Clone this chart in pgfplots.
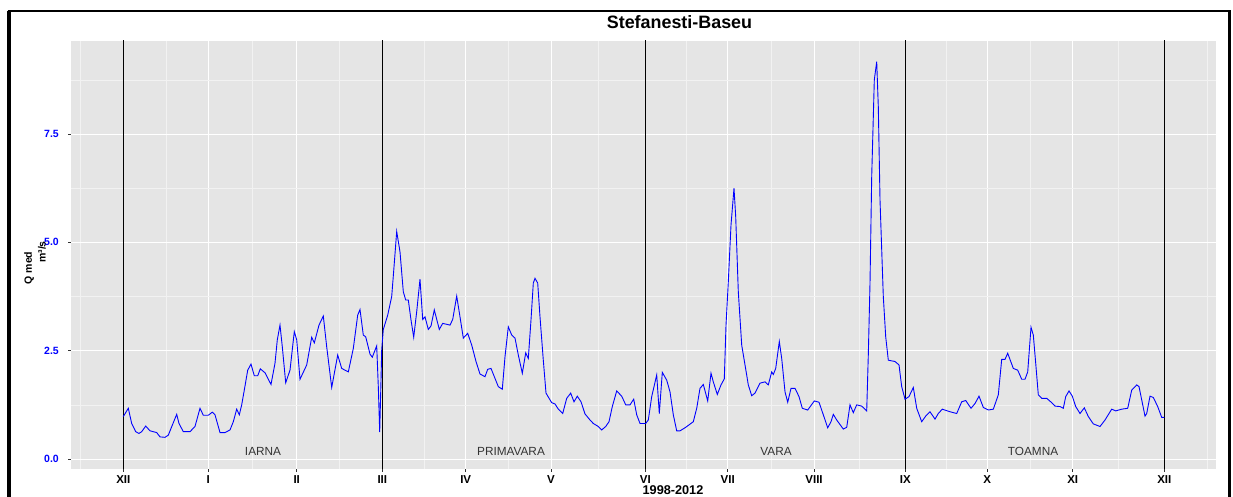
\documentclass[border=0pt]{standalone}
\usepackage{pgfplots}
\pgfplotsset{compat=1.18}
\usepackage{fontspec}
\setmainfont{Liberation Sans}
\definecolor{panelbg}{HTML}{E5E5E5}
\definecolor{minorgrid}{HTML}{F2F2F2}
\definecolor{tickgray}{HTML}{333333}
\definecolor{qblue}{HTML}{0000FF}
\definecolor{labgray}{HTML}{333333}

\pgfplotstableread{
x v
123.3 0.98
128.3 1.17
131.7 0.82
135.7 0.63
139 0.59
141.7 0.63
145.7 0.76
150 0.65
156.7 0.61
160 0.51
165 0.50
168.3 0.55
172.3 0.78
176.7 1.03
179 0.82
183.3 0.63
190 0.63
195 0.75
200 1.17
203.3 1.01
208.3 1.01
212.3 1.08
215 1.02
220 0.61
225 0.61
230 0.67
233.3 0.86
236.7 1.15
239.3 1.02
241.7 1.25
244.3 1.59
247.7 2.05
251 2.19
254.3 1.92
257.7 1.92
260.3 2.08
265 1.99
271 1.72
275 2.21
277.3 2.75
280 3.09
282.3 2.59
285.7 1.76
290 2.05
294.3 2.94
296.7 2.75
300 1.84
306.7 2.17
311.7 2.81
314.3 2.68
319 3.09
323.3 3.30
326.7 2.59
331.7 1.65
337.7 2.40
341.7 2.09
348.3 2.01
353.3 2.55
357.7 3.32
360 3.45
363.3 2.86
365.7 2.82
370 2.42
372.3 2.35
376.7 2.61
378.3 1.67
379.7 0.62
381 1.82
381.7 2.52
383.3 2.99
387.7 3.32
391.7 3.75
394.3 4.52
396.7 5.25
400 4.78
403.3 3.86
405.7 3.67
408.3 3.67
411 3.21
413.7 2.81
416.7 3.40
420 4.15
422.7 3.22
425 3.28
428.3 2.99
431 3.07
434.3 3.44
439.3 2.99
442.7 3.13
450 3.09
452.7 3.22
456.7 3.76
460 3.28
463.3 2.79
467.7 2.90
471.7 2.63
476 2.25
480 1.96
485 1.90
487.7 2.07
491 2.09
495 1.86
498.3 1.67
502.3 1.61
505 2.36
508.3 3.05
511.7 2.86
515 2.79
518.3 2.40
522.3 1.98
525.7 2.45
528.3 2.32
531 3.21
533.3 4.06
535 4.17
537.7 4.06
540 3.28
543.3 2.28
546 1.52
551.7 1.30
555 1.27
558.3 1.15
562.7 1.05
566.7 1.40
570.7 1.52
574 1.32
577.3 1.45
581 1.32
585 1.04
590 0.90
593.3 0.82
598.3 0.75
601.7 0.67
605.7 0.75
609 0.86
612.3 1.21
616.7 1.57
621.7 1.45
625.7 1.25
630 1.25
633.7 1.38
636.7 1.02
640 0.82
645.7 0.82
648.3 0.90
651.7 1.44
656.7 1.94
659.3 1.05
662.3 2.00
666.7 1.82
670 1.55
673.3 1.02
676.7 0.65
680 0.65
685 0.72
693.3 0.86
696.7 1.17
700 1.63
703.3 1.72
707.7 1.34
711 1.98
713.3 1.78
717.3 1.49
721 1.71
724.3 1.85
726 3.09
728.3 4.09
731 5.40
734 6.25
735.7 5.59
738.3 3.86
741.7 2.63
745 2.17
748.3 1.71
751.7 1.46
755 1.52
760 1.75
765 1.78
768.3 1.71
771.7 2.01
773.3 1.95
775.7 2.09
779.3 2.71
781.7 2.32
785 1.55
787.7 1.31
791 1.63
795 1.63
799 1.44
802.3 1.17
807.7 1.13
814.3 1.34
819 1.31
823.3 1.02
827.7 0.72
831 0.86
833.3 1.03
836.7 0.90
843.3 0.69
846.7 0.73
850 1.25
853.3 1.07
856.7 1.25
861.7 1.22
866.7 1.11
868.3 2.40
870 4.06
871.7 6.52
874.3 8.75
876.7 9.17
878.3 8.13
880 5.98
883.3 3.75
885.7 2.82
888.3 2.28
895 2.25
899 2.17
901.7 1.67
905 1.38
909 1.44
913.3 1.65
916.7 1.17
921.7 0.86
925.7 0.99
930 1.09
935 0.92
938.3 1.05
942.3 1.15
950 1.09
956.7 1.05
961.7 1.32
965.7 1.35
971 1.17
975 1.28
979 1.45
983.3 1.19
988.3 1.13
993.3 1.15
998.3 1.48
1001.7 2.30
1005 2.30
1007.7 2.44
1013.3 2.09
1017.7 2.05
1021.7 1.84
1025 1.84
1027.7 2.01
1031 3.04
1033.3 2.86
1035.7 2.21
1038.3 1.48
1041.7 1.40
1046.7 1.40
1051.7 1.30
1055 1.22
1060 1.21
1063.3 1.17
1065.7 1.44
1069 1.57
1072.3 1.45
1075.7 1.21
1080 1.05
1084.3 1.18
1088.3 0.98
1093.3 0.81
1100 0.75
1105 0.90
1111.7 1.15
1115.7 1.11
1121.7 1.15
1127.7 1.17
1131.7 1.59
1136.7 1.71
1139 1.67
1145 0.99
1146.7 1.05
1150 1.45
1153.3 1.42
1157.7 1.21
1161.7 0.96
1164.3 0.96
}\qdata

\begin{document}
\begin{tikzpicture}[x=1pt,y=1pt]
\useasboundingbox (0,0) rectangle (1233,497);
\fill[white] (0,0) rectangle (1233,497);
\begin{axis}[
  at={(71pt,28pt)}, anchor=south west,
  scale only axis, width=1145pt, height=428pt,
  xmin=71, xmax=1216, ymin=-0.231, ymax=9.647,
  axis line style={draw=none},
  axis background/.style={fill=panelbg},
  xtick={123.3,208.3,296.7,382.3,465.7,551,645.3,727.7,814,905.3,987.3,1072.7,1164.3},
  xticklabels={XII,I,II,III,IV,V,VI,VII,VIII,IX,X,XI,XII},
  minor xtick={80.7,165.8,252.5,339.5,424,508.4,598.2,686.5,770.9,859.7,946.3,1030,1118.5,1207.3},
  ytick={0,2.5,5,7.5},
  yticklabels={0.0,2.5,5.0,7.5},
  minor ytick={1.25,3.75,6.25,8.75},
  grid=both,
  major grid style={white, line width=0.95pt},
  minor grid style={minorgrid, line width=0.6pt},
  tick align=outside,
  major tick length=3pt,
  minor tick length=0pt,
  tick style={tickgray, line width=0.8pt},
  tick pos=left,
  xticklabel style={font=\fontsize{11.5}{12}\selectfont\bfseries, text=black, inner sep=0pt, anchor=north, yshift=-3pt},
  yticklabel style={font=\fontsize{10.5}{11}\selectfont\bfseries, text=qblue, inner sep=0pt, anchor=east, xshift=-9pt},
  clip=true,
]
\addplot[black, line width=0.9pt] coordinates {(123.3,-0.3) (123.3,9.7)};
\addplot[black, line width=0.9pt] coordinates {(382.3,-0.3) (382.3,9.7)};
\addplot[black, line width=0.9pt] coordinates {(645.3,-0.3) (645.3,9.7)};
\addplot[black, line width=0.9pt] coordinates {(905.3,-0.3) (905.3,9.7)};
\addplot[black, line width=0.9pt] coordinates {(1164.3,-0.3) (1164.3,9.7)};
\addplot[qblue, line width=0.9pt] table[x=x, y=v] {\qdata};
\node[font=\fontsize{11.8}{12}\selectfont, text=labgray] at (axis cs:263,0.18) {IARNA};
\node[font=\fontsize{11.8}{12}\selectfont, text=labgray] at (axis cs:511,0.18) {PRIMAVARA};
\node[font=\fontsize{11.8}{12}\selectfont, text=labgray] at (axis cs:776,0.18) {VARA};
\node[font=\fontsize{11.8}{12}\selectfont, text=labgray] at (axis cs:1033,0.18) {TOAMNA};
\end{axis}
\node[font=\fontsize{17.9}{19}\selectfont\bfseries] at (679.5,475) {Stefanesti-Baseu};
\node[font=\fontsize{12.7}{13}\selectfont\bfseries] at (673,7) {1998-2012};
\node[rotate=90, font=\fontsize{10.5}{11}\selectfont\bfseries] at (29,229) {Q med};
\node[rotate=90, font=\fontsize{10.5}{11}\selectfont\bfseries] at (42,245) {m³/s};
\draw[black, line width=3.5pt] (9.2,0) -- (9.2,486);
\draw[black, line width=2.2pt] (7.5,486) -- (1230.5,486);
\draw[black, line width=3pt] (1229.5,486) -- (1229.5,0);
\end{tikzpicture}
\end{document}
